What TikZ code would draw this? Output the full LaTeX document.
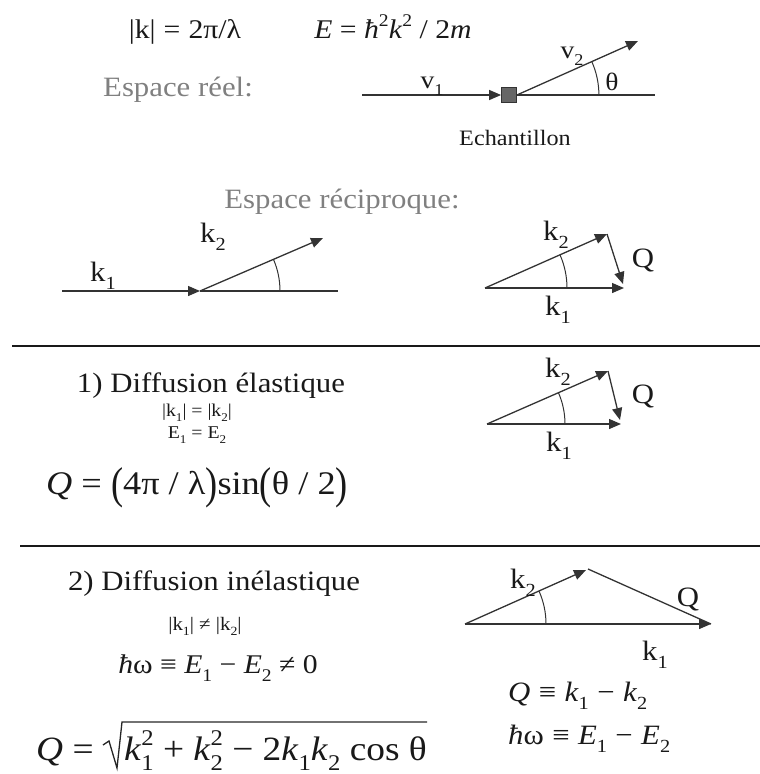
\documentclass[tikz,border=0pt]{standalone}
\usepackage{fontspec}
\setmainfont{Liberation Serif}[FakeStretch=1.1]
\usepackage{graphicx}
\usetikzlibrary{arrows.meta,calc}
\newcommand\fs[1]{\fontsize{#1}{#1}\selectfont}
\newcommand\lo[1]{\raisebox{-0.3em}{\scalebox{0.66}{#1}}}
\newcommand\hi[1]{\raisebox{0.42em}{\scalebox{0.66}{#1}}}
\newcommand\lohi[2]{\rlap{\lo{#1}}\hi{#2}}
\newcommand\gapx{\hspace{0.3em}}
\tikzset{
  ln/.style={draw=black!80, line width=1.3pt},
  vec/.style={ln, -{Triangle[length=12pt,width=10pt]}},
  ang/.style={draw=black!80, line width=1pt},
  txt/.style={inner sep=0pt, anchor=base, text=black!90},
  gtxt/.style={txt, text=black!50, font=\fs{28}},
  lab/.style={txt, font=\fs{28}},
  sml/.style={txt, font=\fs{18}},
  rulel/.style={draw=black!90, line width=2.5pt},
  sample/.style={draw=black!80, fill=black!60, minimum size=15pt, inner sep=0pt, line width=0.8pt},
}
\begin{document}
\begin{tikzpicture}[x=1pt,y=-1pt]
\useasboundingbox (0,0) rectangle (760,774);

% ---------- top formulas
\node[txt,font=\fs{27}] (kdef) at (185,38) {|k|\gapx=\gapx2π/λ};
\node[txt,font=\fs{27}] (edef) at (393,38) {\textit{E} = \textit{ħ}\hi{2}\textit{k}\hi{2} / 2\textit{m}};

% ---------- real space
\node[gtxt] (er) at (178,96) {Espace réel:};
\coordinate (rl) at (362,95);
\coordinate (rr) at (655,95);
\coordinate (v2t) at (638,41);
\node[sample] (smp) at (509,95) {};
\draw[vec] (rl) -- (smp.west);
\draw[ln] (smp.east) -- (rr);
\draw[vec] (smp.east) -- (v2t);
\draw[ang] (smp.east) ++(82,0) arc[start angle=0, end angle=-23.9, radius=82];
\node[lab,font=\fs{25}] (v1) at (432,88) {v\lo{1}};
\node[lab,font=\fs{25}] (v2) at (572,58) {v\lo{2}};
\node[lab,font=\fs{25}] (th) at (612,90) {θ};
\node[txt,font=\fs{22}] (ech) at (515,145) {Echantillon};

% ---------- reciprocal space
\node[gtxt] (erc) at (342,208) {Espace réciproque:};
\coordinate (al) at (62,291);
\coordinate (ao) at (200,291);
\coordinate (ar) at (338,291);
\coordinate (ak2) at (323,238);
\draw[ln] (ao) -- (ar);
\draw[vec] (al) -- (ao);
\draw[vec] (ao) -- (ak2);
\draw[ang] (ao) ++(80,0) arc[start angle=0, end angle=-23.3, radius=80];
\node[lab] (ak1l) at (103,281) {k\lo{1}};
\node[lab] (ak2l) at (213,242) {k\lo{2}};

% triangle 1
\coordinate (bo) at (485,288);
\coordinate (bk1) at (624,288);
\coordinate (bk2) at (607,234);
\coordinate (bq) at (623,284);
\draw[vec] (bo) -- (bk1);
\draw[vec] (bo) -- (bk2);
\draw[vec] (bk2) -- (bq);
\draw[ang] (bo) ++(82,0) arc[start angle=0, end angle=-23.9, radius=82];
\node[lab] (bk2l) at (556,240) {k\lo{2}};
\node[lab] (bql) at (643,267) {Q};
\node[lab] (bk1l) at (558,315) {k\lo{1}};

% ---------- rule 1
\coordinate (r1a) at (12,346);
\coordinate (r1b) at (760,346);
\draw[rulel] (r1a) -- (r1b);

% ---------- elastic
\node[lab] (el) at (211,392) {1) Diffusion élastique};
\node[sml] (elk) at (197,416) {|k\lo{1}| = |k\lo{2}|};
\node[sml] (ele) at (197,438) {E\lo{1} = E\lo{2}};
\node[txt,font=\fs{33},anchor=base west] (qel) at (46,494)
  {\textit{Q} = \raisebox{-0.14em}{\scalebox{1}[1.35]{(}}4π / λ\raisebox{-0.14em}{\scalebox{1}[1.35]{)}}sin\raisebox{-0.14em}{\scalebox{1}[1.35]{(}}θ / 2\raisebox{-0.14em}{\scalebox{1}[1.35]{)}}};

% triangle 2
\coordinate (co) at (487,424);
\coordinate (ck1) at (621,424);
\coordinate (ck2) at (608,371);
\coordinate (cq) at (620,420);
\draw[vec] (co) -- (ck1);
\draw[vec] (co) -- (ck2);
\draw[vec] (ck2) -- (cq);
\draw[ang] (co) ++(78,0) arc[start angle=0, end angle=-23.4, radius=78];
\node[lab] (ck2l) at (558,377) {k\lo{2}};
\node[lab] (cql) at (643,403) {Q};
\node[lab] (ck1l) at (559,451) {k\lo{1}};

% ---------- rule 2
\coordinate (r2a) at (20,546);
\coordinate (r2b) at (760,546);
\draw[rulel] (r2a) -- (r2b);

% ---------- inelastic
\node[lab] (inel) at (214,590) {2) Diffusion inélastique};
\node[sml,font=\fs{19}] (ink) at (205,630) {|k\lo{1}| ≠ |k\lo{2}|};
\node[txt,font=\fs{27}] (inw) at (218,673) {\textit{ħ}ω ≡ \textit{E}\lo{1} − \textit{E}\lo{2} ≠ 0};
\node[txt,font=\fs{34},anchor=base west] (qlhs) at (36,760) {\textit{Q} =};
\node[txt,font=\fs{34},anchor=base west] (qrad) at (124,760)
  {\textit{k}\lohi{1}{2} + \textit{k}\lohi{2}{2} − 2\textit{k}\lo{1}\textit{k}\lo{2} cos θ};
\coordinate (s1) at (103,745);
\coordinate (s2) at (109,741);
\coordinate (s3) at (117,768);
\coordinate (s4) at (122,722);
\draw[draw=black!85, line width=1.3pt, line join=miter] (s1) -- (s2) -- (s3) -- (s4) -- (s4 -| qrad.east);

% triangle 3
\coordinate (dO) at (465,624);
\coordinate (dk1) at (711,624);
\coordinate (dk2) at (586,570);
\coordinate (dq) at (588,569);
\draw[vec] (dO) -- (dk1);
\draw[vec] (dO) -- (dk2);
\draw[ln] (dq) -- (dk1);
\draw[ang] (dO) ++(81,0) arc[start angle=0, end angle=-24, radius=81];
\node[lab] (dk2l) at (523,588) {k\lo{2}};
\node[lab] (dql) at (688,606) {Q};
\node[lab] (dk1l) at (655,660) {k\lo{1}};
\node[txt,font=\fs{28},anchor=base west] (dqe) at (508,701) {\textit{Q}\gapx≡\gapx\textit{k}\lo{1}\gapx−\gapx\textit{k}\lo{2}};
\node[txt,font=\fs{28},anchor=base west] (dwe) at (508,744) {\textit{ħ}ω\gapx≡\gapx\textit{E}\lo{1}\gapx−\gapx\textit{E}\lo{2}};
\end{tikzpicture}
\end{document}
